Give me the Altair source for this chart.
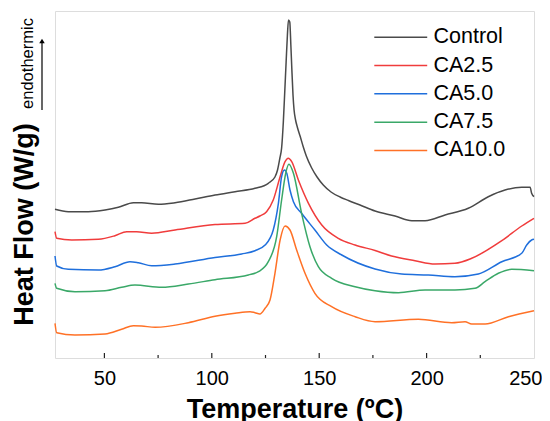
import altair as alt
import pandas as pd

# ---- data (temperature in °C, heat flow in W/g, offset curves) ----
control_T = [27, 33.2, 42.5, 50.3, 56.5, 63.5, 67.3, 75.1, 82.9, 92.2, 101.5, 110.8, 120.1, 126.3,
             129.4, 130.6, 131.7, 132.5, 133.3, 134.0, 134.6, 135.2, 135.7, 136.3, 136.8, 137.2,
             137.8, 138.3, 139.0, 139.8, 141.1, 142.6, 144.0, 146.5, 149.0, 151.9, 155.5, 159.7,
             163.6, 169.0, 176.0, 185.3, 193.1, 199.3, 208.6, 219.4, 228.7, 236.5, 244.3, 248.2,
             248.9, 250]
control_hf = [1.487, 1.463, 1.463, 1.48, 1.507, 1.553, 1.553, 1.537, 1.553, 1.59, 1.63, 1.663, 1.697,
              1.747, 1.81, 1.88, 2.0, 2.1, 2.36, 2.68, 2.96, 3.23, 3.38, 3.36, 3.13, 2.92, 2.63, 2.48,
              2.38, 2.31, 2.22, 2.11, 2.02, 1.90, 1.81, 1.73, 1.66, 1.61, 1.575, 1.53, 1.47, 1.42,
              1.373, 1.373, 1.43, 1.497, 1.613, 1.68, 1.707, 1.707, 1.647, 1.613]

ca25_T = [27, 27.8, 34.8, 47.2, 54.9, 60.4, 65.0, 72.0, 82.9, 101.5, 115.5, 120.1, 122.4, 125.5,
          128.6, 131.8, 134.1, 135.6, 137.2, 140.3, 145.0, 151.2, 158.9, 166.7, 176.0, 183.7,
          194.6, 203.9, 213.2, 221.0, 235.0, 244.3, 250]
ca25_hf = [1.263, 1.197, 1.18, 1.187, 1.223, 1.263, 1.263, 1.247, 1.28, 1.335, 1.347, 1.397, 1.42,
           1.463, 1.58, 1.813, 1.963, 1.997, 1.963, 1.78, 1.547, 1.33, 1.197, 1.13, 1.075, 1.02,
           0.973, 0.94, 0.947, 0.997, 1.173, 1.32, 1.397]

ca50_T = [27, 27.8, 33.2, 47.2, 54.9, 61.9, 65.8, 72.0, 82.9, 101.5, 113.9, 120.1, 124.8, 128.6,
          131.0, 132.5, 133.8, 134.9, 136.4, 138.0, 141.8, 148.0, 153.5, 160.5, 176.0, 188.4,
          200.8, 213.2, 224.1, 235.0, 244.3, 246.6, 248.9, 250]
ca50_hf = [1.02, 0.92, 0.887, 0.88, 0.913, 0.963, 0.953, 0.923, 0.94, 1.005, 1.04, 1.073, 1.13, 1.28,
           1.547, 1.813, 1.88, 1.847, 1.68, 1.563, 1.447, 1.28, 1.13, 1.03, 0.89, 0.84, 0.83, 0.813,
           0.84, 0.963, 1.047, 1.13, 1.18, 1.187]

ca75_T = [27, 27.8, 36.3, 50.3, 58.0, 64.2, 76.7, 89.1, 101.5, 117.0, 121.7, 126.3, 130.2, 132.5,
          134.4, 135.9, 138.0, 141.8, 145.7, 149.6, 155.8, 166.7, 176.0, 186.9, 199.3, 213.2,
          222.5, 227.2, 233.4, 239.6, 250]
ca75_hf = [0.747, 0.697, 0.663, 0.673, 0.707, 0.73, 0.707, 0.74, 0.783, 0.83, 0.863, 0.963, 1.213,
           1.58, 1.847, 1.937, 1.847, 1.447, 1.113, 0.913, 0.797, 0.713, 0.673, 0.653, 0.68, 0.68,
           0.697, 0.763, 0.847, 0.887, 0.873]

ca100_T = [27, 27.8, 36.3, 50.3, 58.0, 63.5, 67.3, 73.6, 89.1, 101.5, 110.8, 117.8, 120.1, 122.4,
           124.8, 127.1, 129.4, 131.8, 134.1, 136.4, 139.5, 143.4, 148.0, 155.8, 166.7, 176.0,
           196.2, 211.7, 217.9, 221.0, 227.2, 238.1, 250]
ca100_hf = [0.347, 0.253, 0.23, 0.24, 0.287, 0.323, 0.32, 0.307, 0.353, 0.417, 0.447, 0.463, 0.453,
            0.44, 0.497, 0.58, 0.847, 1.18, 1.32, 1.28, 1.08, 0.847, 0.647, 0.513, 0.413, 0.363,
            0.387, 0.353, 0.363, 0.34, 0.34, 0.413, 0.473]

series_names = ["Control", "CA2.5", "CA5.0", "CA7.5", "CA10.0"]
series_colors = ["#4a4a4a", "#f03c3c", "#1f6fdc", "#3aa868", "#ff7126"]
x_tick_labels = [50, 100, 150, 200, 250]
major_ticks = [50, 100, 150, 200]
minor_ticks = [75, 125, 175, 225]

frames = []
for name, T, hf in zip(series_names,
                       [control_T, ca25_T, ca50_T, ca75_T, ca100_T],
                       [control_hf, ca25_hf, ca50_hf, ca75_hf, ca100_hf]):
    frames.append(pd.DataFrame({"T": T, "hf": hf, "series": name}))
df = pd.concat(frames, ignore_index=True)

FONT = "Liberation Sans"
W, H = 479, 347

xscale = alt.Scale(domain=[27, 250], nice=False, zero=False)
yscale = alt.Scale(domain=[0, 3.47], nice=False, zero=False)

lines = alt.Chart(df).mark_line(strokeWidth=1.5, interpolate="monotone").encode(
    x=alt.X("T:Q", scale=xscale,
            axis=alt.Axis(values=x_tick_labels, ticks=False, grid=False, domain=False,
                          labelFontSize=20, labelFont=FONT, labelColor="#000", labelPadding=10,
                          labelFlush=True, labelFlushOffset=8,
                          title="Temperature (ºC)", titleFont=FONT, titleFontSize=27,
                          titleFontWeight="bold", titleColor="#000", titleY=59,
                          titleBaseline="alphabetic")),
    y=alt.Y("hf:Q", scale=yscale,
            axis=alt.Axis(labels=False, ticks=False, grid=False, domain=False,
                          title="Heat Flow (W/g)", titleFont=FONT, titleFontSize=27,
                          titleFontWeight="bold", titleColor="#000", titleAngle=270,
                          titleX=-23, titleY=213, titleAlign="center",
                          titleBaseline="alphabetic")),
    color=alt.Color("series:N", sort=series_names,
                    scale=alt.Scale(domain=series_names, range=series_colors),
                    legend=alt.Legend(title=None, orient="none", legendX=335, legendY=15.5,
                                      symbolType="M-5,0H5", symbolSize=112,
                                      symbolStrokeWidth=1.5, labelFont=FONT,
                                      labelFontSize=21.5, labelColor="#000",
                                      labelOffset=22, rowPadding=5.3, padding=0)),
    order=alt.Order("T:Q"),
)

tick_df = pd.DataFrame({"t": major_ticks + minor_ticks,
                        "kind": ["major"] * len(major_ticks) + ["minor"] * len(minor_ticks)})
major = alt.Chart(tick_df[tick_df.kind == "major"]).mark_rule(color="#222", strokeWidth=1.2).encode(
    x=alt.X("t:Q", scale=xscale), y=alt.value(H), y2=alt.value(H - 5))
minor = alt.Chart(tick_df[tick_df.kind == "minor"]).mark_rule(color="#222", strokeWidth=1.2).encode(
    x=alt.X("t:Q", scale=xscale), y=alt.value(H), y2=alt.value(H - 3))

endo = alt.Chart(pd.DataFrame({"txt": ["endothermic"]})).mark_text(
    font=FONT, fontSize=16.5, angle=270, align="center", baseline="alphabetic", color="#000"
).encode(x=alt.value(-22), y=alt.value(52.5), text="txt:N")

arrow_line = alt.Chart(pd.DataFrame({"a": [0]})).mark_rule(color="#000", strokeWidth=1.2).encode(
    x=alt.value(-13), y=alt.value(99), y2=alt.value(31))
arrow_head = alt.Chart(pd.DataFrame({"a": [0]})).mark_point(
    shape="triangle-up", filled=True, color="#000", size=30, opacity=1
).encode(x=alt.value(-13), y=alt.value(30))

chart = alt.layer(lines, major, minor, endo, arrow_line, arrow_head).properties(
    width=W, height=H,
    autosize=alt.AutoSizeParams(type="none"),
    padding={"left": 47, "top": 3, "right": 8, "bottom": 63},
).configure_view(stroke="#333", strokeWidth=1.5).configure(background="white")

chart.save("out.html", embed_options={"renderer": "svg", "actions": False})
